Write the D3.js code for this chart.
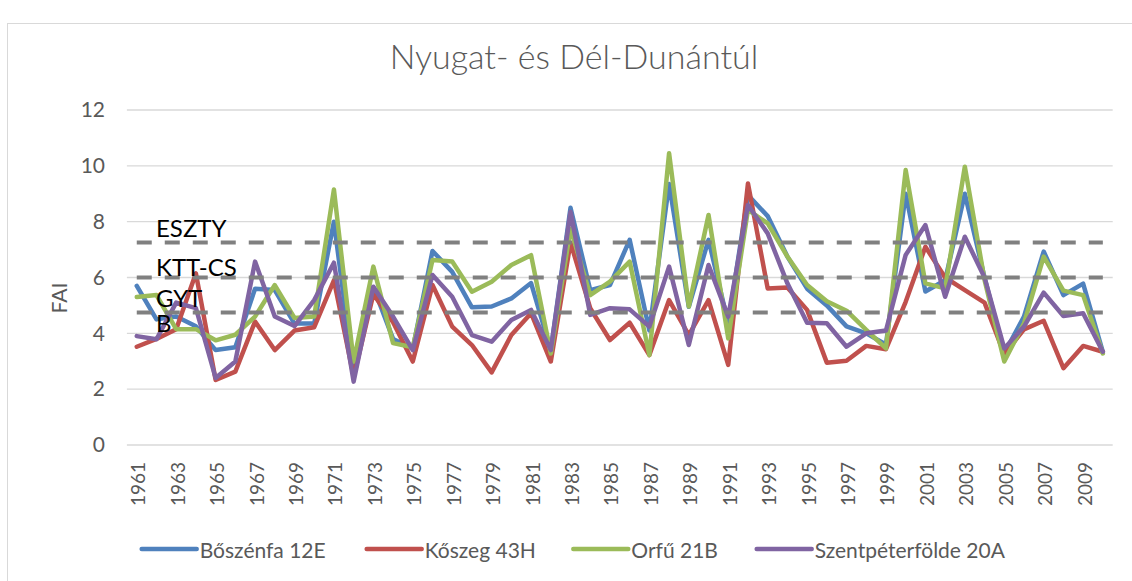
<!DOCTYPE html>
<html>
<head>
<meta charset="utf-8">
<script src="https://cdn.jsdelivr.net/npm/d3@7"></script>
<style>
  html, body { margin: 0; padding: 0; background: #fff; }
  svg { display: block; font-family: Lato, "Open Sans", sans-serif; }
</style>
</head>
<body>
<svg id="chart" width="1132" height="581"></svg>
<script>
const years = d3.range(1961, 2011);
const tickYears = years.filter((d, i) => i % 2 === 0);
const yTicks = [0, 2, 4, 6, 8, 10, 12];
const seriesNames = ["Bőszénfa 12E", "Kőszeg 43H", "Orfű 21B", "Szentpéterfölde 20A"];
const seriesColors = ["#4F81BD", "#C0504D", "#9BBB59", "#8064A2"];

const boszenfa = [5.7,4.5,4.6,4.25,3.4,3.5,5.6,5.55,4.35,4.35,8.0,2.55,5.65,3.8,3.45,6.95,6.2,4.93,4.96,5.25,5.8,3.4,8.5,5.55,5.73,7.35,4.1,9.35,4.95,7.35,4.35,8.95,8.2,6.75,5.6,5.0,4.25,4.0,3.6,9.0,5.5,5.9,9.0,6.0,3.28,4.6,6.93,5.37,5.78,3.34];
const koszeg = [3.52,3.8,4.15,6.15,2.33,2.63,4.42,3.4,4.1,4.22,5.9,2.45,5.4,4.4,2.99,5.73,4.24,3.58,2.6,3.94,4.72,2.99,7.25,4.9,3.76,4.38,3.22,5.19,3.94,5.19,2.87,9.37,5.61,5.64,4.84,2.95,3.02,3.55,3.43,5.13,7.1,6.0,5.55,5.1,3.25,4.14,4.45,2.75,3.55,3.34];
const orfu = [5.3,5.37,4.15,4.15,3.75,3.95,4.6,5.73,4.55,4.6,9.15,2.99,6.39,3.65,3.5,6.63,6.57,5.49,5.85,6.45,6.8,3.28,7.75,5.37,5.85,6.57,3.22,10.45,4.96,8.24,3.82,8.42,7.94,6.75,5.73,5.15,4.81,4.12,3.46,9.85,5.79,5.61,9.97,5.91,2.99,4.36,6.75,5.53,5.37,3.28];
const szentpeterfolde = [3.9,3.79,5.1,4.9,2.4,2.99,6.57,4.6,4.26,5.19,6.53,2.27,5.67,4.6,3.4,6.09,5.31,3.94,3.7,4.48,4.84,3.4,8.35,4.66,4.9,4.86,4.24,6.39,3.58,6.45,4.6,8.6,7.58,5.79,4.38,4.36,3.52,4.0,4.1,6.81,7.88,5.31,7.46,6.0,3.46,4.24,5.46,4.62,4.72,3.34];
const seriesValues = [boszenfa, koszeg, orfu, szentpeterfolde];

const thresholdValues = [7.25, 6, 4.75];
const thresholdLabels = ["ESZTY", "KTT-CS", "GYT", "B"];
const labelValues = [7.8, 6.4, 5.3, 4.4];

const title = "Nyugat- és Dél-Dunántúl";
const yTitle = "FAI";

const svg = d3.select("#chart");
const gridColor = "#D9D9D9", textColor = "#595959";

// chart frame
svg.append("rect").attr("x", 7.5).attr("y", 23.5).attr("width", 1200).attr("height", 700)
  .attr("fill", "none").attr("stroke", gridColor).attr("stroke-width", 1);

const x = d3.scaleBand().domain(years).range([126.9, 1112.7]).padding(0);
const cx = d => x(d) + x.bandwidth() / 2;
const y = d3.scaleLinear().domain([0, 12]).range([445, 110]);

// gridlines
svg.append("g").selectAll("line").data(yTicks).join("line")
  .attr("x1", 126.9).attr("x2", 1112.7)
  .attr("y1", d => y(d)).attr("y2", d => y(d))
  .attr("stroke", gridColor).attr("stroke-width", 1.3);

// y axis labels
const yAxis = d3.axisLeft(y).tickValues(yTicks).tickSize(0).tickPadding(0).tickFormat(d3.format("d"));
const yg = svg.append("g").attr("transform", "translate(105,0)").call(yAxis);
yg.select(".domain").remove();
yg.selectAll("text").attr("fill", textColor).style("font-size", "21px").style("font-family", "Lato, sans-serif");

// x axis labels
const xAxis = d3.axisBottom(x).tickValues(tickYears).tickSize(0).tickPadding(0);
const xg = svg.append("g").attr("transform", "translate(0,445)").call(xAxis);
xg.select(".domain").remove();
xg.selectAll("text")
  .attr("fill", textColor).style("font-size", "19px").style("font-family", "Lato, sans-serif")
  .attr("text-anchor", "end").attr("dy", null)
  .attr("transform", "translate(1,17) rotate(-90)")
  .attr("y", 0).attr("x", 0).attr("dominant-baseline", "central");

// series lines
const line = d3.line().x((d, i) => cx(years[i])).y(d => y(d));
svg.append("g").selectAll("path").data(seriesValues).join("path")
  .attr("d", d => line(d))
  .attr("fill", "none")
  .attr("stroke", (d, i) => seriesColors[i])
  .attr("stroke-width", 4.5)
  .attr("stroke-linejoin", "round")
  .attr("stroke-linecap", "round");

// threshold dashed lines
svg.append("g").selectAll("line").data(thresholdValues).join("line")
  .attr("x1", cx(years[0])).attr("x2", cx(years[years.length - 1]))
  .attr("y1", d => y(d)).attr("y2", d => y(d))
  .attr("stroke", "#808080").attr("stroke-width", 4)
  .attr("stroke-dasharray", "15,13");

// threshold labels
svg.append("g").selectAll("text").data(thresholdLabels).join("text")
  .attr("x", 156).attr("y", (d, i) => y(labelValues[i]))
  .attr("dominant-baseline", "central")
  .attr("fill", "#000").style("font-size", "24px")
  .text(d => d);

// title
svg.append("text").attr("x", 574).attr("y", 69).attr("text-anchor", "middle")
  .attr("fill", textColor).style("font-size", "34px").style("font-weight", 300)
  .text(title);

// y title
svg.append("text").attr("transform", "translate(58,298) rotate(-90)")
  .attr("text-anchor", "middle").attr("dominant-baseline", "central")
  .attr("fill", textColor).style("font-size", "21px").text(yTitle);

// legend
const legendX = [141.7, 366.7, 573.3, 756.7];
const lg = svg.append("g").selectAll("g").data(seriesNames).join("g")
  .attr("transform", (d, i) => `translate(${legendX[i]},549)`);
lg.append("line").attr("x1", 0).attr("x2", 55).attr("y1", 0).attr("y2", 0)
  .attr("stroke", (d, i) => seriesColors[i]).attr("stroke-width", 4.5).attr("stroke-linecap", "round");
lg.append("text").attr("x", 58).attr("y", 0).attr("dominant-baseline", "central")
  .attr("fill", textColor).style("font-size", "21px").text(d => d);
</script>
</body>
</html>
